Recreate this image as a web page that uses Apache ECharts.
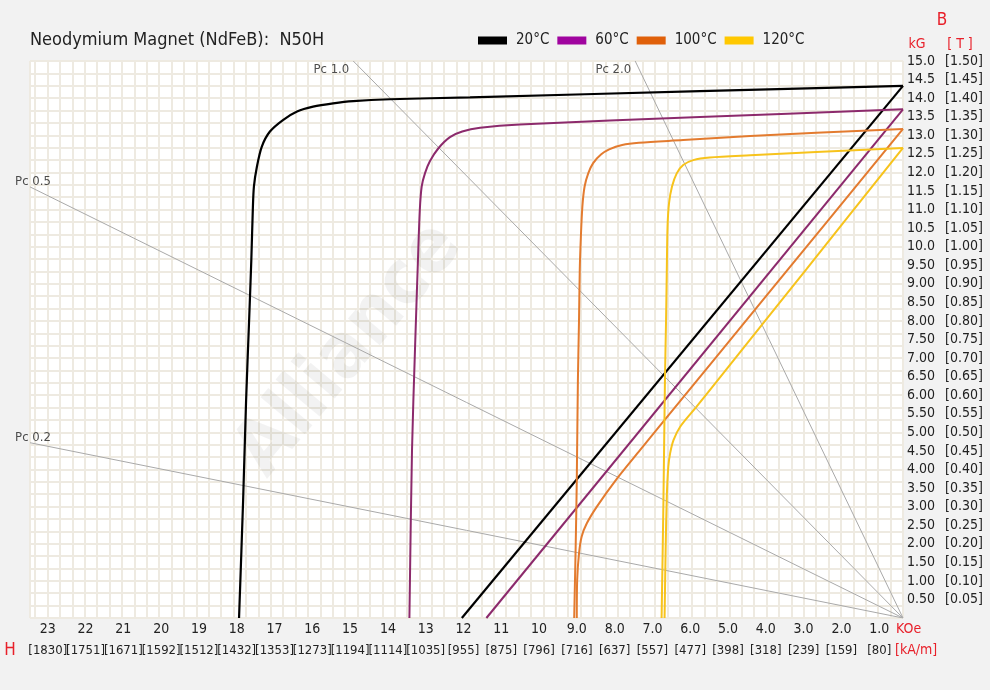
<!DOCTYPE html>
<html><head><meta charset="utf-8">
<script src="https://cdn.jsdelivr.net/npm/echarts@6/dist/echarts.min.js"></script>
<style>html,body{margin:0;padding:0;background:#f2f2f2}#c{width:990px;height:690px}</style>
</head><body><div id="c"></div>
<script>
const FONT = "'DejaVu Sans Condensed','Liberation Sans Narrow',Roboto,sans-serif";

const temps = ['20°C', '60°C', '100°C', '120°C'];
const legendColors = ['#000000', '#a0049f', '#e0600a', '#ffc800'];
const lineColors = ['#000000', '#8c2a6c', '#e37b2f', '#f7c31c'];

// Intrinsic curves: [H (kOe), B (kG)]
const intrinsic20 = [[0,14.33],[5.46,14.19],[11.64,14.02],[13.79,13.97],[14.78,13.92],[15.32,13.86],[15.86,13.77],[16.29,13.64],[16.67,13.41],[17.02,13.10],[17.24,12.69],[17.37,12.15],[17.45,11.62],[17.48,10.99],[17.52,9.64],[17.58,8.0],[17.66,5.87],[17.74,3.18],[17.85,0]];
const intrinsic60 = [[0,13.70],[5.46,13.49],[10.30,13.29],[11.37,13.20],[11.85,13.10],[12.18,12.95],[12.49,12.65],[12.72,12.30],[12.85,11.98],[12.94,11.62],[12.99,10.99],[13.04,9.64],[13.12,7.22],[13.20,4.52],[13.27,0]];
const intrinsic100 = [[0,13.17],[4.11,12.98],[5.91,12.87],[7.10,12.80],[7.55,12.74],[7.90,12.62],[8.12,12.48],[8.33,12.25],[8.46,11.98],[8.56,11.62],[8.62,11.08],[8.66,10.27],[8.69,9.37],[8.71,8.03],[8.74,6.41],[8.77,3.72],[8.80,1.92],[8.84,0]];
const intrinsic120 = [[0,12.66],[4.11,12.46],[5.20,12.40],[5.64,12.33],[5.91,12.20],[6.08,11.98],[6.21,11.62],[6.29,11.17],[6.33,10.54],[6.35,9.37],[6.37,8.03],[6.40,6.41],[6.44,3.18],[6.49,0]];

// Normal curves: [H (kOe), B (kG)]
const normal20 = [[0,14.33],[11.86,0]];
const normal60 = [[0,13.70],[11.20,0]];
const normal100 = [[0,13.17],[3.50,8.89],[6.50,5.22],[7.07,4.52],[7.70,3.74],[8.23,3.00],[8.50,2.55],[8.64,2.19],[8.71,1.74],[8.76,1.02],[8.77,0]];
const normal120 = [[0,12.66],[2.60,9.39],[5.00,6.38],[5.55,5.69],[5.99,5.15],[6.17,4.79],[6.26,4.44],[6.31,4.07],[6.35,3.27],[6.38,1.92],[6.41,0]];

// Permeance coefficient load lines (from origin to the plot edge)
const pcNames = ['Pc 0.2', 'Pc 0.5', 'Pc 1.0', 'Pc 2.0'];
const pcEndH = [23.47, 23.47, 14.78, 7.20];
const pcEndB = [4.72, 11.61, 15, 15];

// Tick labels
const hTickVals = [1,2,3,4,5,6,7,8,9,10,11,12,13,14,15,16,17,18,19,20,21,22,23];
const hTickKOe = ['1.0','2.0','3.0','4.0','5.0','6.0','7.0','8.0','9.0','10','11','12','13','14','15','16','17','18','19','20','21','22','23'];
const hTickKAm = ['[80]','[159]','[239]','[318]','[398]','[477]','[557]','[637]','[716]','[796]','[875]','[955]','[1035]','[1114]','[1194]','[1273]','[1353]','[1432]','[1512]','[1592]','[1671]','[1751]','[1830]'];
const bTickKG = ['0.50','1.00','1.50','2.00','2.50','3.00','3.50','4.00','4.50','5.00','5.50','6.00','6.50','7.00','7.50','8.00','8.50','9.00','9.50','10.0','10.5','11.0','11.5','12.0','12.5','13.0','13.5','14.0','14.5','15.0'];
const bTickT = ['[0.05]','[0.10]','[0.15]','[0.20]','[0.25]','[0.30]','[0.35]','[0.40]','[0.45]','[0.50]','[0.55]','[0.60]','[0.65]','[0.70]','[0.75]','[0.80]','[0.85]','[0.90]','[0.95]','[1.00]','[1.05]','[1.10]','[1.15]','[1.20]','[1.25]','[1.30]','[1.35]','[1.40]','[1.45]','[1.50]'];

const intrinsic = [intrinsic20, intrinsic60, intrinsic100, intrinsic120];
const normal = [normal20, normal60, normal100, normal120];

const chart = echarts.init(document.getElementById('c'), null, {renderer: 'canvas'});
const gridColor = '#eeeae1';
const textColor = '#222';

const series = [];
pcNames.forEach((n, i) => {
  series.push({
    type: 'line', name: n, data: [[0, 0], [pcEndH[i], pcEndB[i]]],
    symbol: 'none', silent: true, z: 1,
    lineStyle: {color: '#a9a9a9', width: 1}
  });
});
series.push({
  type: 'scatter', name: 'pcLabels', symbolSize: 0, silent: true, z: 3,
  data: pcNames.map((n, i) => {
    const top = pcEndB[i] >= 15;
    return {
      value: [pcEndH[i], pcEndB[i], n],
      label: top
        ? {show: true, position: 'left', distance: 4, offset: [0, 9]}
        : {show: true, position: 'top', distance: 0, offset: [3, 1]}
    };
  }),
  label: {formatter: p => p.value[2], color: textColor, fontSize: 13, fontFamily: FONT}
});
temps.forEach((t, i) => {
  series.push({
    type: 'line', name: t, data: intrinsic[i], symbol: 'none', smooth: 0.3, z: 2,
    itemStyle: {color: legendColors[i]},
    lineStyle: {color: lineColors[i], width: i === 0 ? 2.2 : 2}
  });
  series.push({
    type: 'line', name: t, data: normal[i], symbol: 'none', smooth: 0.3, z: 2,
    itemStyle: {color: legendColors[i]},
    lineStyle: {color: lineColors[i], width: i === 0 ? 2.2 : 2}
  });
});

const redText = '#e8202a';
const option = {
  backgroundColor: '#f2f2f2',
  animation: false,
  title: {
    text: 'Neodymium Magnet (NdFeB):  N50H', left: 30, top: 31, padding: 0,
    textStyle: {fontSize: 18, fontWeight: 'normal', color: textColor, fontFamily: FONT}
  },
  legend: {
    left: 478, top: 33, padding: 0, itemWidth: 29, itemHeight: 8, itemGap: 8, icon: 'rect',
    data: temps.map((t, i) => ({name: t, itemStyle: {color: legendColors[i]}})),
    textStyle: {fontSize: 15, color: textColor, fontFamily: FONT, width: 38, padding: [0, 0, 0, 4]}
  },
  grid: {left: 30, right: 87, top: 61, bottom: 72, show: true, backgroundColor: '#ffffff', borderWidth: 0},
  xAxis: [
    {
      type: 'value', inverse: true, min: 0, max: 23.47, interval: 1 / 3,
      axisLabel: {show: false}, axisTick: {show: false}, axisLine: {show: false},
      splitLine: {show: true, lineStyle: {color: gridColor, width: 2}}
    },
    {
      type: 'value', inverse: true, min: 0.37, max: 23.47, position: 'bottom',
      axisLine: {show: false}, axisTick: {show: false}, splitLine: {show: false},
      axisLabel: {
        show: true, margin: 1, customValues: hTickVals.concat([23.45]),
        formatter: v => {
          const i = hTickVals.indexOf(v);
          if (i < 0) return '';
          return '{a|' + hTickKOe[i] + '}\n{b|' + hTickKAm[i] + '}';
        },
        rich: {
          a: {fontSize: 14, lineHeight: 21, width: 32, color: textColor, fontFamily: FONT, align: 'center'},
          b: {fontSize: 13, lineHeight: 21, width: 32, color: textColor, fontFamily: FONT, align: 'center'}
        }
      }
    }
  ],
  yAxis: [
    {
      type: 'value', min: 0, max: 15, interval: 1 / 3,
      axisLabel: {show: false}, axisTick: {show: false}, axisLine: {show: false},
      splitLine: {show: true, lineStyle: {color: gridColor, width: 2}}
    },
    {
      type: 'value', min: 0, max: 15, interval: 0.5, position: 'right',
      axisLine: {show: false}, axisTick: {show: false}, splitLine: {show: false},
      axisLabel: {
        margin: 4,
        formatter: v => {
          const i = Math.round(v / 0.5) - 1;
          if (i < 0 || i >= bTickKG.length) return '';
          return '{a|' + bTickKG[i] + '}{b|' + bTickT[i] + '}';
        },
        rich: {
          a: {fontSize: 14, width: 38, color: textColor, fontFamily: FONT, align: 'left'},
          b: {fontSize: 14, color: textColor, fontFamily: FONT, align: 'left'}
        }
      }
    }
  ],
  graphic: [
    {type: 'text', x: 350, y: 350, rotation: 0.87, z: 1, silent: true,
      style: {text: 'Alliance', fill: 'rgba(0,0,0,0.05)', font: 'bold 76px ' + FONT, align: 'center', verticalAlign: 'middle'}},
    {type: 'text', x: 942, y: 21, style: {text: 'B', fill: redText, font: '17px ' + FONT, align: 'center', verticalAlign: 'middle'}},
    {type: 'text', x: 917, y: 44, style: {text: 'kG', fill: redText, font: '14px ' + FONT, align: 'center', verticalAlign: 'middle'}},
    {type: 'text', x: 960, y: 44, style: {text: '[ T ]', fill: redText, font: '14px ' + FONT, align: 'center', verticalAlign: 'middle'}},
    {type: 'text', x: 10, y: 651, style: {text: 'H', fill: redText, font: '17px ' + FONT, align: 'center', verticalAlign: 'middle'}},
    {type: 'text', x: 896, y: 629, style: {text: 'KOe', fill: redText, font: '14px ' + FONT, align: 'left', verticalAlign: 'middle'}},
    {type: 'text', x: 895, y: 650, style: {text: '[kA/m]', fill: redText, font: '14px ' + FONT, align: 'left', verticalAlign: 'middle'}}
  ],
  series: series
};
chart.setOption(option);
</script>
</body></html>
